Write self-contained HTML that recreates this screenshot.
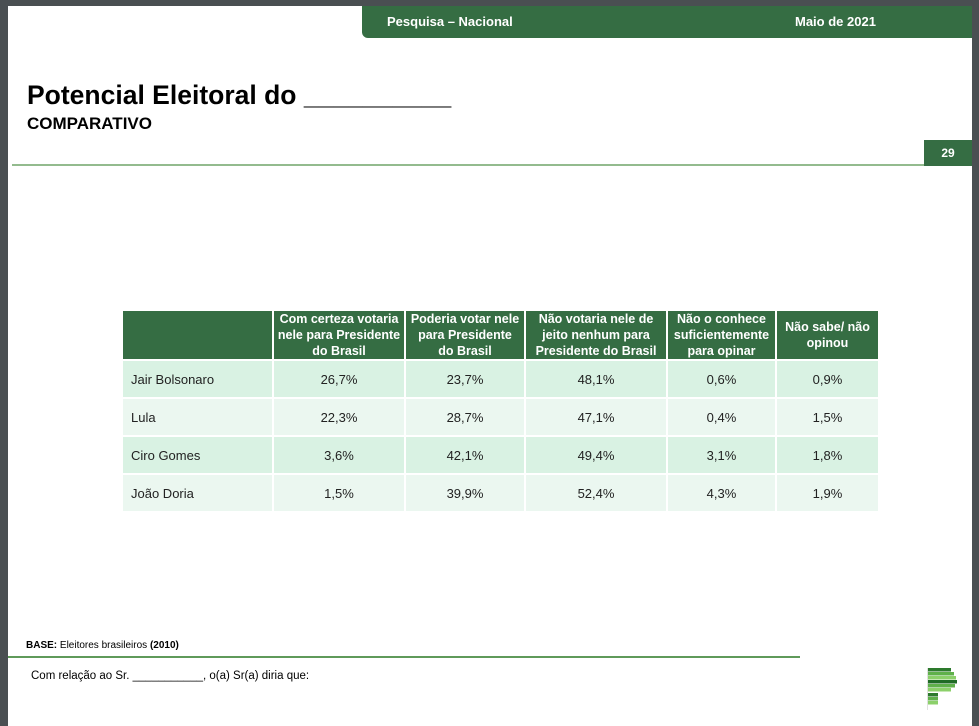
<!DOCTYPE html>
<html><head><meta charset="utf-8"><style>
body{margin:0;width:979px;height:726px;background:#4a4f52;position:relative;overflow:hidden;font-family:"Liberation Sans",sans-serif}
.page{position:absolute;left:8px;top:6px;width:964px;height:720px;background:#fff}
.abs{position:absolute}
table{position:absolute;left:121px;top:309px;border-collapse:collapse;table-layout:fixed}
td,th{border:2px solid #fff;padding:0;font-size:13px;color:#222;text-align:center}
th{background:#356d43;color:#fff;font-weight:bold;font-size:12.5px;line-height:16px;height:47px;vertical-align:bottom;padding:0}
td{height:36px}
tr.a td{background:#d9f2e3}
tr.b td{background:#ebf7f0}
td.n{text-align:left;padding-left:8px}
</style></head><body>
<div class="page"></div>
<div class="abs" style="left:362px;top:6px;width:610px;height:32px;background:#356d43;border-bottom-left-radius:6px"></div>
<div class="abs" style="left:387px;top:14px;color:#fff;font-size:13px;font-weight:bold">Pesquisa – Nacional</div>
<div class="abs" style="left:795px;top:14px;color:#fff;font-size:13px;font-weight:bold">Maio de 2021</div>
<div class="abs" style="left:27px;top:80px;font-size:26.5px;font-weight:bold;color:#000">Potencial Eleitoral do __________</div>
<div class="abs" style="left:27px;top:114px;font-size:17px;font-weight:bold;color:#000">COMPARATIVO</div>
<div class="abs" style="left:12px;top:164px;width:912px;height:2px;background:#93bb8e"></div>
<div class="abs" style="left:924px;top:140px;width:48px;height:26px;background:#356d43;color:#fff;font-size:12px;font-weight:bold;text-align:center;line-height:27px">29</div>
<table>
<colgroup><col style="width:151px"><col style="width:132px"><col style="width:120px"><col style="width:142px"><col style="width:109px"><col style="width:103px"></colgroup>
<tr><th></th><th>Com certeza votaria nele para Presidente do Brasil</th><th>Poderia votar nele<br>para Presidente<br>do Brasil</th><th>Não votaria nele de jeito nenhum para Presidente do Brasil</th><th>Não o conhece suficientemente para opinar</th><th style="vertical-align:middle">Não sabe/ não opinou</th></tr>
<tr class="a"><td class="n">Jair Bolsonaro</td><td>26,7%</td><td>23,7%</td><td>48,1%</td><td>0,6%</td><td>0,9%</td></tr>
<tr class="b"><td class="n">Lula</td><td>22,3%</td><td>28,7%</td><td>47,1%</td><td>0,4%</td><td>1,5%</td></tr>
<tr class="a"><td class="n">Ciro Gomes</td><td>3,6%</td><td>42,1%</td><td>49,4%</td><td>3,1%</td><td>1,8%</td></tr>
<tr class="b"><td class="n">João Doria</td><td>1,5%</td><td>39,9%</td><td>52,4%</td><td>4,3%</td><td>1,9%</td></tr>
</table>
<div class="abs" style="left:26px;top:640px;font-size:10px;color:#000"><b>BASE:</b> Eleitores brasileiros <b>(2010)</b></div>
<div class="abs" style="left:8px;top:656px;width:792px;height:2px;background:#5f9a5a"></div>
<div class="abs" style="left:31px;top:670px;font-size:11.5px;color:#000">Com relação ao Sr. ___________, o(a) Sr(a) diria que:</div>
<svg class="abs" style="left:925px;top:664px" width="36" height="46">
<rect x="2" y="4" width="0.6" height="42" fill="#ccc"/>
<rect x="3" y="4" width="23" height="3.5" fill="#2d7a2d"/>
<rect x="3" y="8" width="26" height="3.5" fill="#5fb04a"/>
<rect x="3" y="12" width="28" height="3.5" fill="#8cd06a"/>
<rect x="3" y="16" width="29" height="3.5" fill="#1f6b25"/>
<rect x="3" y="20" width="27" height="3.5" fill="#5fb04a"/>
<rect x="3" y="24" width="23" height="3.5" fill="#8cd06a"/>
<rect x="3" y="29" width="10" height="3.5" fill="#2d7a2d"/>
<rect x="3" y="33" width="10" height="3.5" fill="#5fb04a"/>
<rect x="3" y="37" width="10" height="3.5" fill="#8cd06a"/>
</svg>
</body></html>
